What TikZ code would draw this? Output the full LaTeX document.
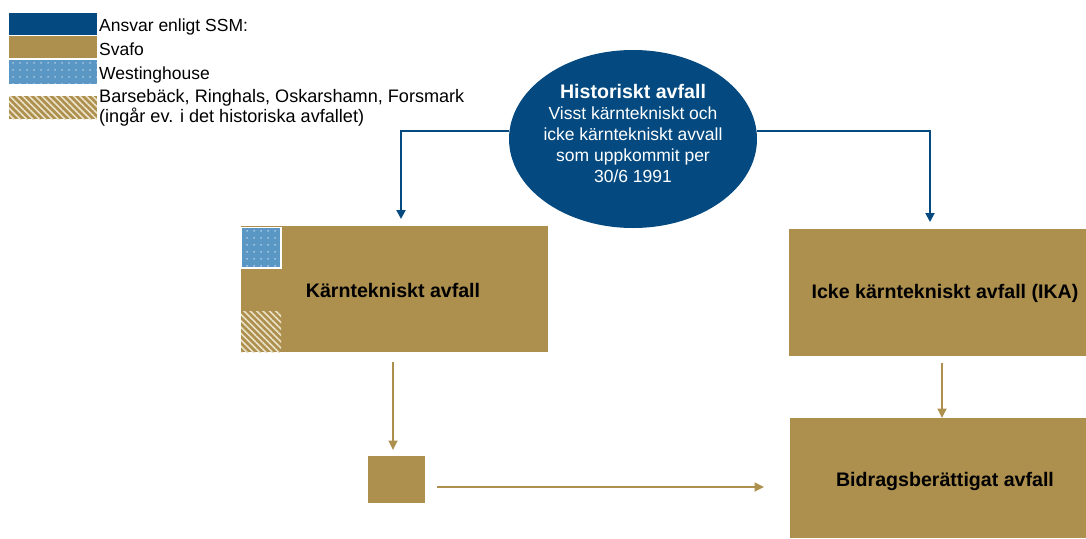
\documentclass[tikz,border=0pt]{standalone}
\usepackage{fontspec}
\setmainfont{Liberation Sans}
\usetikzlibrary{arrows.meta,shapes.geometric,patterns.meta}
\definecolor{navy}{RGB}{4,74,128}
\definecolor{gold}{RGB}{173,143,78}
\definecolor{skyb}{RGB}{91,151,196}
\definecolor{hatchc}{RGB}{236,226,200}
\tikzset{
  goldbox/.style={fill=gold, draw=none, inner sep=0pt, outer sep=0pt, anchor=north west},
  boxtext/.style={font=\fontsize{19.6}{23}\selectfont\bfseries, text=black},
  legtext/.style={font=\fontsize{17.5}{20.5}\selectfont, text=black, anchor=base west, inner sep=0pt, align=left},
  bluearrow/.style={draw=navy, line width=2pt, -{Triangle[length=9pt,width=9pt]}},
  goldarrow/.style={draw=gold, line width=1.7pt, -{Triangle[length=9.5pt,width=9pt]}},
  dotfill/.style={fill=skyb, postaction={pattern={Dots[distance=6.5pt,radius=0.75pt]}, pattern color=white}},
  hatchfill/.style={fill=gold, postaction={pattern={Lines[angle=-45,distance=4.5pt,line width=1.6pt]}, pattern color=hatchc}},
}
\begin{document}
\begin{tikzpicture}[x=1pt,y=-1pt]
\useasboundingbox (0,0) rectangle (1086,538);
% legend
\fill[navy] (9,13) rectangle (97,35);
\fill[gold] (9,36) rectangle (97,58);
\path[dotfill] (9,60) rectangle (97,84);
\path[hatchfill] (9,96) rectangle (97,119);
\node[legtext] (l1) at (99,31.5) {Ansvar enligt SSM:};
\node[legtext] (l2) at (99,55.5) {Svafo};
\node[legtext] (l3) at (99,79) {Westinghouse};
\node[legtext, font=\fontsize{18.1}{19.5}\selectfont] (l4) at (99,122) {Barsebäck, Ringhals, Oskarshamn, Forsmark\\(ingår ev. i det historiska avfallet)};
% ellipse
\node[ellipse, fill=navy, draw=none, minimum width=248pt, minimum height=178pt, inner sep=0pt, outer sep=0pt] (hist) at (633,139) {};
\node[text=white, align=center, font=\fontsize{17.5}{21}\selectfont, anchor=north] (histtext) at (633,81)
  {{\fontsize{19.6}{21}\selectfont\bfseries Historiskt avfall}\\Visst kärntekniskt och\\icke kärntekniskt avvall\\som uppkommit per\\30/6 1991};
% boxes
\node[goldbox, minimum width=307pt, minimum height=126pt] (kt) at (241,226) {};
\path[dotfill, draw=white, line width=1.5pt] (241.5,227.5) rectangle (281,268);
\path[hatchfill] (241,311) rectangle (281,352);
\node[boxtext] (kttext) at (393,290) {Kärntekniskt avfall};
\node[goldbox, minimum width=297pt, minimum height=127pt] (ika) at (789,229) {};
\node[boxtext] (ikatext) at (945,293) {Icke kärntekniskt avfall (IKA)};
\node[goldbox, minimum width=296pt, minimum height=120pt] (bid) at (790,418) {};
\node[boxtext] (bidtext) at (945,481) {Bidragsberättigat avfall};
\node[goldbox, minimum width=57pt, minimum height=47pt] (sq) at (368,456) {};
% connectors
\coordinate (hl) at (509,131);
\coordinate (hr) at (757,131);
\draw[bluearrow] (hl) -| (401,219);
\draw[bluearrow] (hr) -| (930,222);
\coordinate (a1) at (393,362);
\draw[goldarrow] (a1) -- (393,450);
\coordinate (a2) at (437,487);
\draw[goldarrow] (a2) -- (764,487);
\coordinate (a3) at (942,363);
\draw[goldarrow] (a3) -- (942,418);
\end{tikzpicture}
\end{document}
